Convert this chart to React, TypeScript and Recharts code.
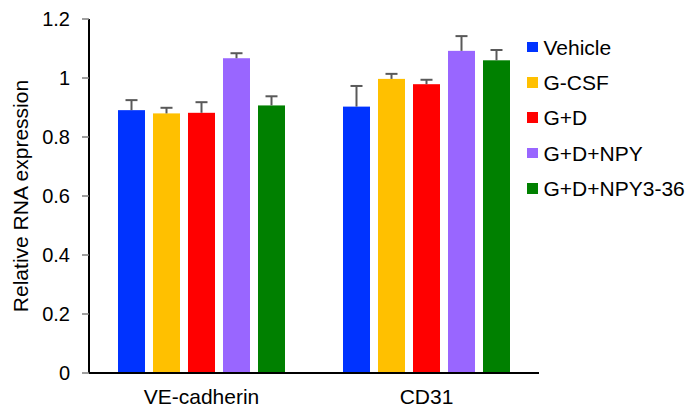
import React from 'react';
import { BarChart, Bar, XAxis, YAxis, Legend } from 'recharts';

const categories = ['VE-cadherin', 'CD31'];
const seriesNames = ['Vehicle', 'G-CSF', 'G+D', 'G+D+NPY', 'G+D+NPY3-36'];
const seriesColors = ['#0033FF', '#FFC000', '#FF0000', '#9966FF', '#008000'];

const vehicle = [0.891, 0.903];
const gcsf = [0.88, 0.997];
const gd = [0.882, 0.979];
const gdNpy = [1.067, 1.092];
const gdNpy336 = [0.907, 1.06];

const vehicleErr = [0.034, 0.07];
const gcsfErr = [0.019, 0.017];
const gdErr = [0.036, 0.015];
const gdNpyErr = [0.017, 0.05];
const gdNpy336Err = [0.031, 0.035];

const yTicks = [0, 0.2, 0.4, 0.6, 0.8, 1, 1.2];

const seriesValues = [vehicle, gcsf, gd, gdNpy, gdNpy336];
const seriesErrs = [vehicleErr, gcsfErr, gdErr, gdNpyErr, gdNpy336Err];

const data = categories.map((c, i) => {
  const row: any = { name: c };
  seriesValues.forEach((vals, s) => {
    row['s' + s] = vals[i];
    row['e' + s] = seriesErrs[s][i];
  });
  return row;
});

const FONT = '"Liberation Sans", Arial, sans-serif';

const makeShape = (errKey: string) => (props: any) => {
  const { x, y, width, height, fill, payload, value } = props;
  const v = Array.isArray(value) ? value[1] - value[0] : value;
  const err = payload[errKey];
  const errPx = v ? (height / v) * err : 0;
  const cx = x + width / 2;
  return (
    <g>
      <rect x={x} y={y} width={width} height={height} fill={fill} />
      <line x1={cx} y1={y} x2={cx} y2={y - errPx} stroke="#595959" strokeWidth={2} />
      <line x1={cx - 6} y1={y - errPx} x2={cx + 6} y2={y - errPx} stroke="#595959" strokeWidth={2} />
    </g>
  );
};

const YLabel = (props: any) => {
  const vb = props.viewBox || {};
  const cy = (vb.y || 0) + (vb.height || 0) / 2;
  const x = 28;
  return (
    <text
      x={x}
      y={cy}
      transform={`rotate(-90, ${x}, ${cy})`}
      textAnchor="middle"
      fontFamily={FONT}
      fontSize={21}
      fill="#000"
    >
      Relative RNA expression
    </text>
  );
};

const LegendContent = () => {
  return (
    <div style={{ fontFamily: FONT, fontSize: 21, color: '#000' }}>
      {seriesNames.map((n, s) => (
        <div key={n} style={{ display: 'flex', alignItems: 'center', height: 35.3 }}>
          <span style={{ display: 'inline-block', width: 10.5, height: 10.5, background: seriesColors[s], marginRight: 6 }} />
          <span style={{ whiteSpace: 'nowrap', lineHeight: '21px' }}>{n}</span>
        </div>
      ))}
    </div>
  );
};

export default function App() {
  return (
    <div style={{ position: 'absolute', left: 0, top: 0, background: '#fff' }}>
      <BarChart
        width={688}
        height={410}
        data={data}
        margin={{ top: 19, right: 149, bottom: 0, left: 0 }}
        barSize={27}
        barGap={8}
      >
        <XAxis
          dataKey="name"
          height={37}
          axisLine={{ stroke: '#000', strokeWidth: 2 }}
          tickLine={false}
          tickSize={0}
          tickMargin={16}
          tick={{ fontFamily: FONT, fontSize: 21, fill: '#000' }}
        />
        <YAxis
          width={89}
          domain={[0, 1.2]}
          ticks={yTicks}
          interval={0}
          axisLine={{ stroke: '#000', strokeWidth: 2 }}
          tickLine={{ stroke: '#7f7f7f', strokeWidth: 1.5 }}
          tickSize={7}
          tickMargin={12}
          tick={{ fontFamily: FONT, fontSize: 20, fill: '#000' }}
          tickFormatter={(v: number) => String(v)}
          label={<YLabel />}
        />
        <Legend
          layout="horizontal"
          align="center"
          verticalAlign="middle"
          content={<LegendContent />}
          wrapperStyle={{ left: 527, top: 29.5, width: 160, height: 180 }}
        />
        {seriesNames.map((n, s) => (
          <Bar
            key={n}
            dataKey={'s' + s}
            name={n}
            fill={seriesColors[s]}
            isAnimationActive={false}
            shape={makeShape('e' + s)}
          />
        ))}
      </BarChart>
    </div>
  );
}
